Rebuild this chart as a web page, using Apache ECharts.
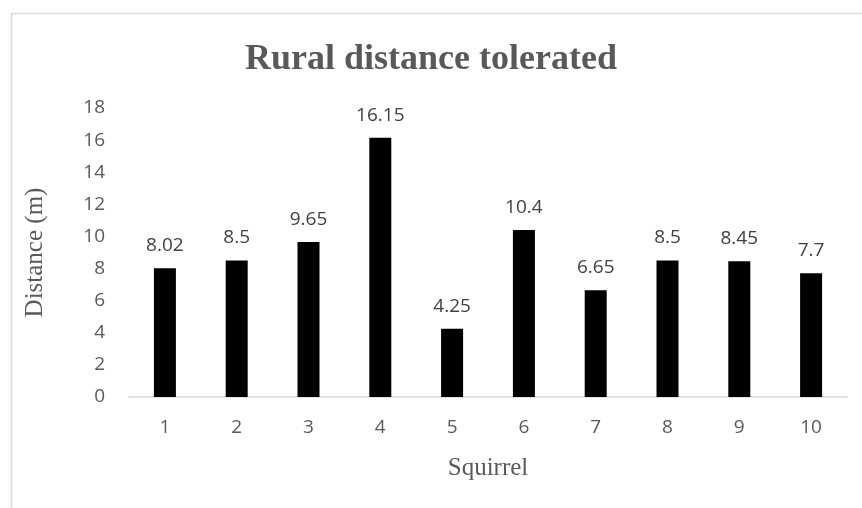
<!DOCTYPE html>
<html>
<head>
<meta charset="utf-8">
<script src="https://cdn.jsdelivr.net/npm/echarts@6/dist/echarts.min.js"></script>
<style>
  html, body { margin: 0; padding: 0; background: #fff; }
  #chart { width: 862px; height: 508px; }
</style>
</head>
<body>
<div id="chart"></div>
<script>
// data
const squirrels = ["1", "2", "3", "4", "5", "6", "7", "8", "9", "10"];
const distances = [8.02, 8.5, 9.65, 16.15, 4.25, 10.4, 6.65, 8.5, 8.45, 7.7];
const yTicks = { min: 0, max: 18, interval: 2 };

const chart = echarts.init(document.getElementById("chart"));
const grey = "#595959";

chart.setOption({
  animation: false,
  // light frame around the chart area, like the office chart border
  graphic: [{
    type: "rect",
    left: 9, top: 11,
    shape: { width: 900, height: 600 },
    style: { fill: "none", stroke: "#d9d9d9", lineWidth: 1.5 },
    silent: true,
  }],
  title: {
    text: "Rural distance tolerated",
    left: "center",
    top: 37,
    textStyle: {
      fontFamily: "Liberation Serif",
      fontWeight: "bold",
      fontSize: 36,
      color: grey,
    },
  },
  grid: { left: 129, right: 15, top: 108, bottom: 111, containLabel: false },
  xAxis: {
    type: "category",
    data: squirrels,
    name: "Squirrel",
    nameLocation: "middle",
    nameGap: 59,
    nameTextStyle: { fontFamily: "Liberation Serif", fontSize: 25, color: grey },
    axisLine: { lineStyle: { color: "#d9d9d9", width: 1.5 } },
    axisTick: { show: false },
    axisLabel: { margin: 21, fontFamily: "Open Sans", fontSize: 19, color: grey },
  },
  yAxis: {
    type: "value",
    min: yTicks.min,
    max: yTicks.max,
    interval: yTicks.interval,
    name: "Distance (m)",
    nameLocation: "middle",
    nameGap: 81,
    nameTextStyle: { fontFamily: "Liberation Serif", fontSize: 25, color: grey },
    axisLine: { show: false },
    axisTick: { show: false },
    splitLine: { show: false },
    axisLabel: { margin: 24, fontFamily: "Open Sans", fontSize: 19, color: grey },
  },
  series: [{
    type: "bar",
    data: distances,
    barWidth: 22,
    itemStyle: { color: "#000" },
    label: {
      show: true,
      position: "top",
      distance: 13,
      fontFamily: "Open Sans",
      fontSize: 19,
      color: "#404040",
    },
  }],
});
</script>
</body>
</html>
